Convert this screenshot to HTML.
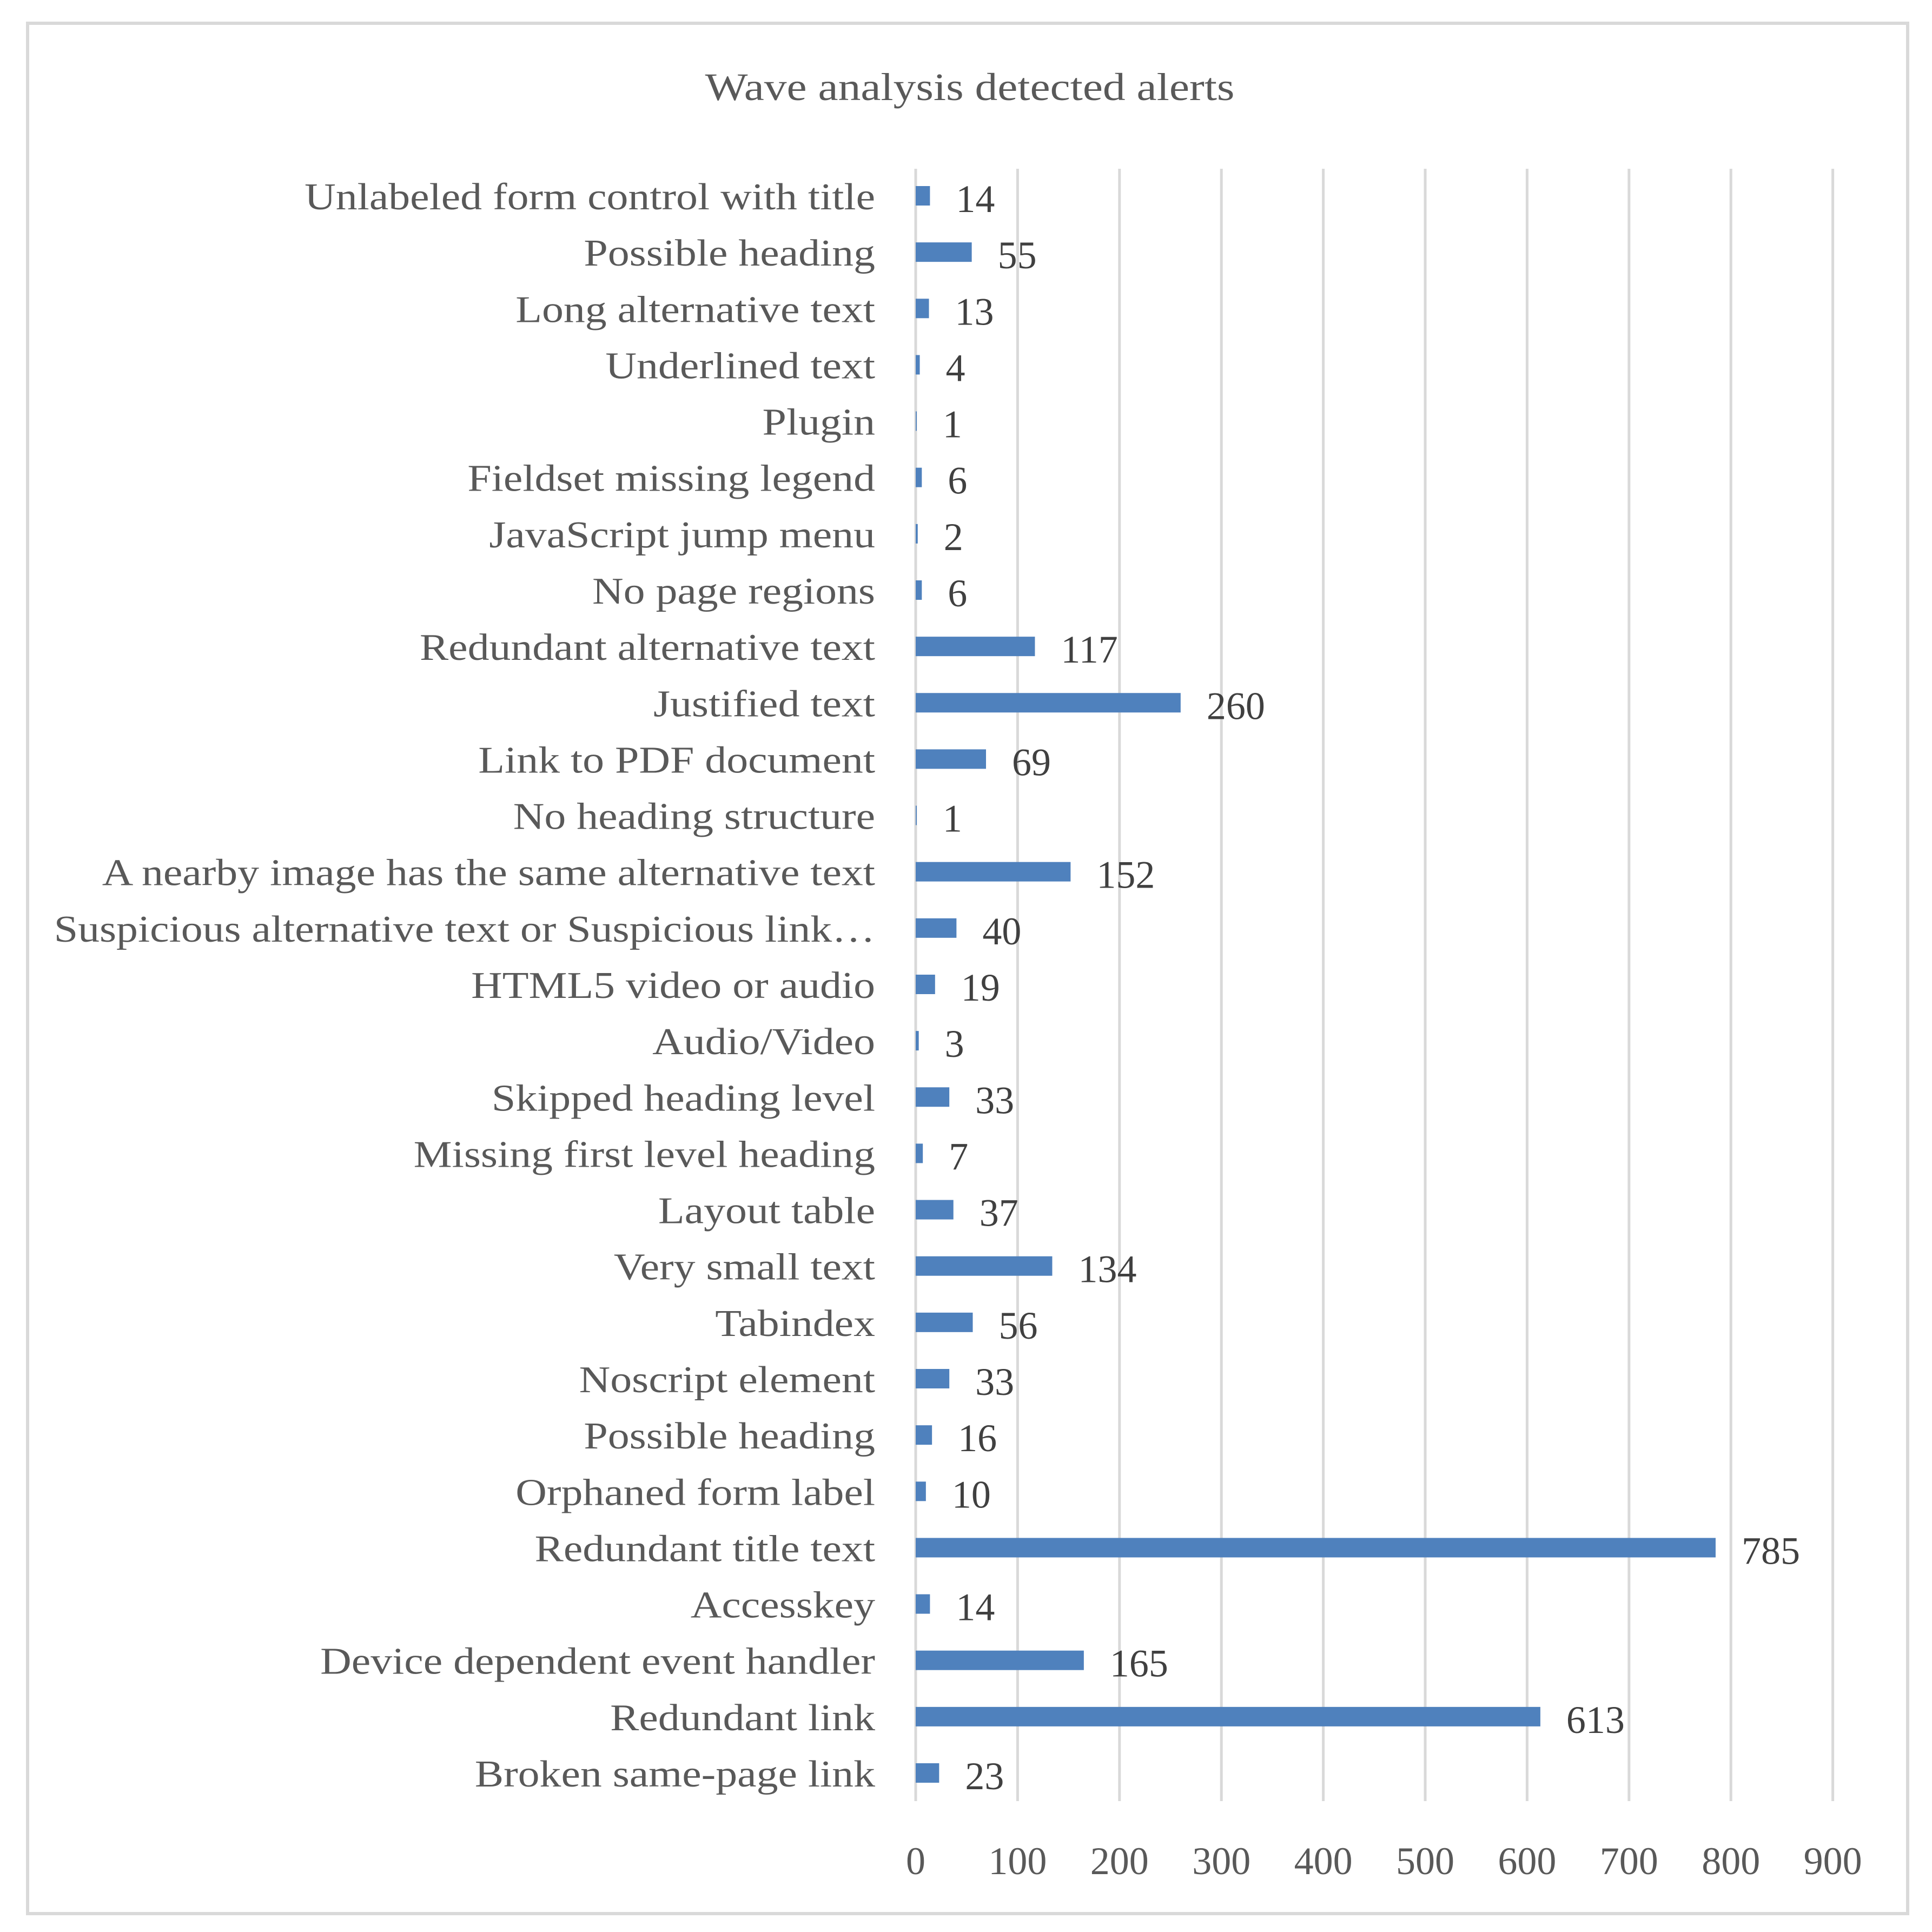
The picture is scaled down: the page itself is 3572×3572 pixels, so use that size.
<!DOCTYPE html>
<html><head><meta charset="utf-8"><style>
html,body{margin:0;padding:0;background:#fff}
svg{display:block}
text{font-family:"Liberation Serif",serif}
</style></head><body>
<svg id="chart" width="3572" height="3572" viewBox="0 0 3572 3572" xmlns="http://www.w3.org/2000/svg">
<rect x="51" y="43" width="3476" height="3495" fill="#fff" stroke="#d9d9d9" stroke-width="6"/>
<text id="title" x="1793" y="185" font-size="72" fill="#595959" text-anchor="middle">Wave analysis detected alerts</text>
<g id="grid"></g>
<g id="bars"></g>
<g id="xticks"></g>
</svg>
<script>
const categories = ["Unlabeled form control with title","Possible heading","Long alternative text","Underlined text","Plugin","Fieldset missing legend","JavaScript jump menu","No page regions","Redundant alternative text","Justified text","Link to PDF document","No heading structure","A nearby image has the same alternative text","Suspicious alternative text or Suspicious link\u2026","HTML5 video or audio","Audio/Video","Skipped heading level","Missing first level heading","Layout table","Very small text","Tabindex","Noscript element","Possible heading","Orphaned form label","Redundant title text","Accesskey","Device dependent event handler","Redundant link","Broken same-page link"];
const values = [14,55,13,4,1,6,2,6,117,260,69,1,152,40,19,3,33,7,37,134,56,33,16,10,785,14,165,613,23];
const tickValues = [0,100,200,300,400,500,600,700,800,900];
const NS="http://www.w3.org/2000/svg";
const x0=1693, pxPer=1.884, yFirst=362, yLast=3278, gridTop=312, gridBot=3330;
function xs(v){return x0+v*pxPer;}
function ys(i){return yFirst+i*(yLast-yFirst)/(categories.length-1);}
function mk(tag,attrs,parent){const e=document.createElementNS(NS,tag);for(const k in attrs)e.setAttribute(k,attrs[k]);parent.appendChild(e);return e;}
function widen(t,f){const w=t.getComputedTextLength();t.setAttribute('textLength',w*f);t.setAttribute('lengthAdjust','spacingAndGlyphs');}
const grid=document.getElementById('grid'),bars=document.getElementById('bars'),xt=document.getElementById('xticks');
widen(document.getElementById('title'),1.16);
tickValues.forEach(t=>{
  const l=mk('line',{x1:xs(t),x2:xs(t),y1:gridTop,y2:gridBot,stroke:'#d9d9d9','stroke-width':5},grid);
  
  
  const tx=mk('text',{x:xs(t),y:3465,'font-size':72,fill:'#595959','text-anchor':'middle'},xt);
  tx.textContent=t;
  
  
});
categories.forEach((c,i)=>{
  const y=ys(i);
  const lab=mk('text',{x:1618,y:y+25,'font-size':70,fill:'#595959','text-anchor':'end'},bars);
  lab.textContent=c;
  
  
  widen(lab,1.14);
  const r=mk('rect',{x:x0,y:y-18,width:Math.max(values[i]*pxPer,0.5),height:36,fill:'#4f81bd'},bars);
  
  
  const v=mk('text',{x:xs(values[i])+48,y:y+30,'font-size':72,fill:'#404040'},bars);
  v.textContent=values[i];
  
  
});
</script>
</body></html>
